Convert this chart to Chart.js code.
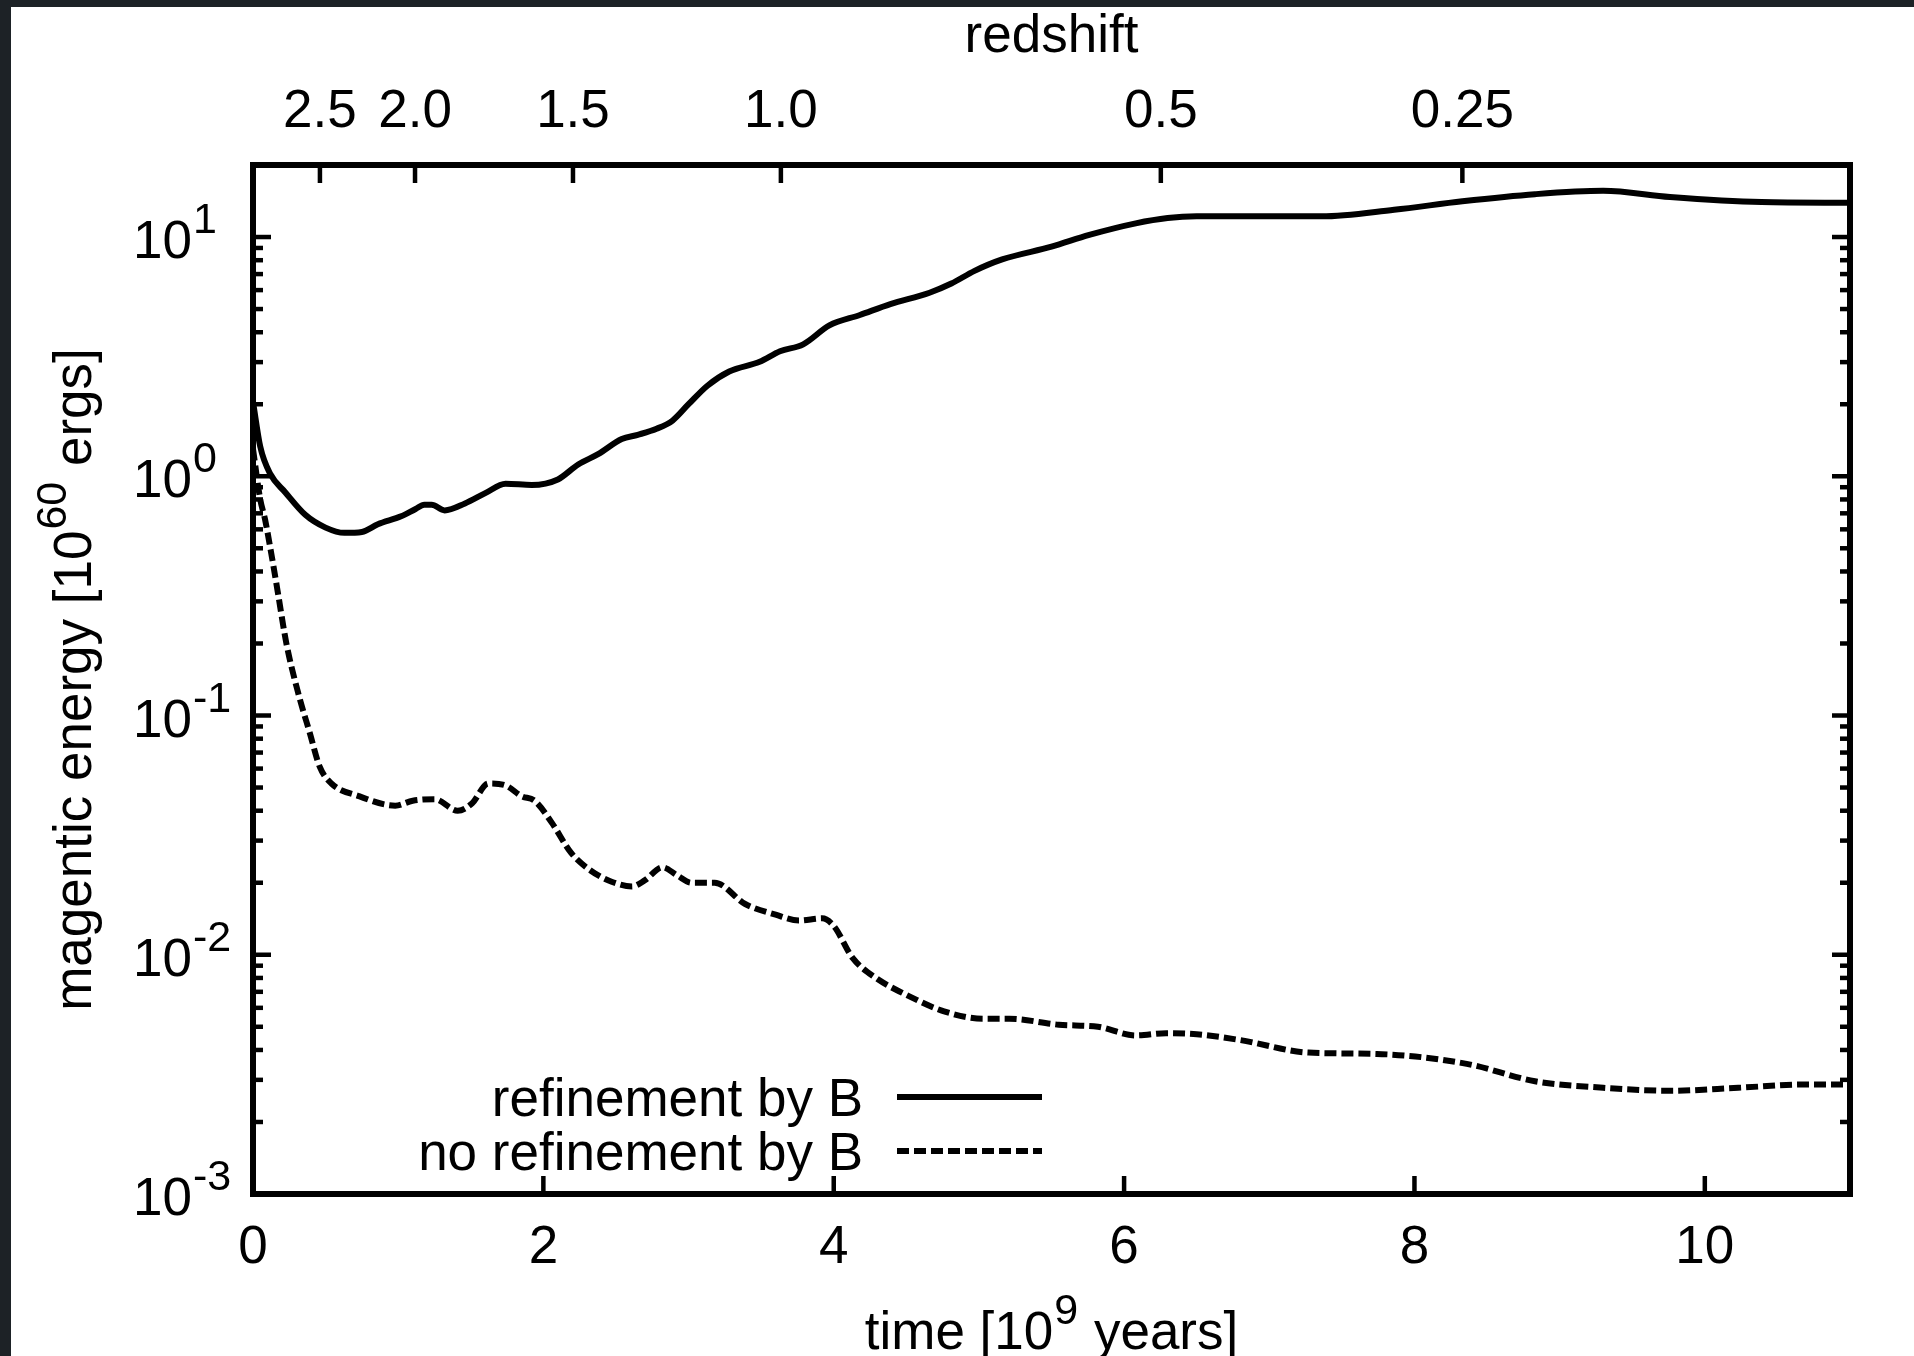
<!DOCTYPE html>
<html><head><meta charset="utf-8">
<script src="https://cdn.jsdelivr.net/npm/chart.js@4.4.0/dist/chart.umd.min.js"></script>
<style>html,body{margin:0;padding:0;background:#1d2226;overflow:hidden}canvas{display:block}</style>
</head><body>
<canvas id="c" width="1914" height="1356"></canvas>
<script>
// ---- data ----
const timeRefined = [0.00,0.05,0.12,0.22,0.36,0.50,0.63,0.75,0.86,1.02,1.12,1.18,1.23,1.32,1.46,1.60,1.74,1.92,2.10,2.24,2.38,2.54,2.65,2.78,2.89,3.00,3.13,3.28,3.49,3.63,3.79,3.97,4.18,4.39,4.66,4.81,4.97,5.16,5.50,5.76,6.08,6.30,6.50,7.36,7.86,8.33,8.83,9.30,9.76,10.39,11.00];
const energyRefined = [2.05,1.33,1.02,0.86,0.69,0.61,0.58,0.585,0.63,0.68,0.73,0.76,0.76,0.72,0.77,0.85,0.93,0.92,0.97,1.12,1.24,1.43,1.49,1.58,1.71,2.0,2.39,2.74,3.01,3.33,3.56,4.27,4.72,5.24,5.85,6.39,7.22,8.06,9.11,10.2,11.4,12.0,12.2,12.2,13.0,14.1,15.1,15.6,14.7,14.0,13.9];
const timeNoRefine = [0.00,0.05,0.083,0.13,0.17,0.23,0.31,0.39,0.46,0.54,0.73,0.98,1.10,1.25,1.41,1.51,1.62,1.74,1.85,1.94,2.06,2.19,2.33,2.47,2.61,2.70,2.82,2.92,3.02,3.18,3.39,3.60,3.76,3.92,4.00,4.13,4.29,4.50,4.76,5.03,5.21,5.55,5.82,6.08,6.29,6.50,6.80,7.27,7.74,8.36,8.83,9.30,9.76,10.23,10.70,11.00];
const energyNoRefine = [1.3,0.80,0.66,0.46,0.33,0.20,0.125,0.085,0.061,0.052,0.046,0.042,0.044,0.0447,0.040,0.043,0.052,0.051,0.046,0.044,0.0355,0.0267,0.0224,0.0202,0.0193,0.0205,0.0232,0.0215,0.020,0.020,0.0163,0.0147,0.0139,0.0142,0.0132,0.0097,0.0080,0.0068,0.0058,0.0054,0.0054,0.0051,0.0050,0.0046,0.0047,0.00465,0.0044,0.0039,0.00385,0.0035,0.00296,0.00278,0.0027,0.00278,0.00287,0.00287];
const seriesLabels = ['refinement by B','no refinement by B'];
const xTickValues = [0,2,4,6,8,10];
const redshiftLabels = ['2.5','2.0','1.5','1.0','0.5','0.25'];
const redshiftTimes = [0.461,1.116,2.204,3.636,6.253,8.33];
const yTickValues = [10,1,0.1,0.01,0.001];
const yTickExponents = ['1','0','-1','-2','-3'];
const xTitleParts = ['time [10','9',' years]'];
const yTitleParts = ['magentic energy [10','60',' ergs]'];
const x2Title = 'redshift';

// ---- drawing ----
const FONT = "'Liberation Sans', Arial, Helvetica, sans-serif";
const BIG = 53, SUP = 43, SUPRISE = 25;

function drawSup(ctx, parts, x, y, align) {
  ctx.font = BIG + 'px ' + FONT; const w0 = ctx.measureText(parts[0]).width;
  ctx.font = SUP + 'px ' + FONT; const w1 = ctx.measureText(parts[1]).width;
  ctx.font = BIG + 'px ' + FONT; const w2 = ctx.measureText(parts[2] || '').width;
  const total = w0 + w1 + w2 + 2;
  let sx = align === 'center' ? x - total / 2 : x;
  ctx.textAlign = 'left'; ctx.textBaseline = 'alphabetic'; ctx.fillStyle = '#000';
  ctx.font = BIG + 'px ' + FONT; ctx.fillText(parts[0], sx, y);
  ctx.font = SUP + 'px ' + FONT; ctx.fillText(parts[1], sx + w0 + 1, y - SUPRISE);
  if (parts[2]) { ctx.font = BIG + 'px ' + FONT; ctx.fillText(parts[2], sx + w0 + w1 + 2, y); }
}

const framePlugin = {
  id: 'frame',
  beforeDraw(chart) {
    const ctx = chart.ctx; ctx.save();
    ctx.fillStyle = '#1d2226'; ctx.fillRect(0, 0, chart.width, chart.height);
    ctx.fillStyle = '#ffffff'; ctx.fillRect(11, 7, chart.width - 11, chart.height - 7);
    ctx.restore();
  }
};

const axesPlugin = {
  id: 'gnuplotAxes',
  afterDraw(chart) {
    const ctx = chart.ctx;
    const {left, right, top, bottom} = chart.chartArea;
    const xs = chart.scales.x, x2 = chart.scales.x2, ys = chart.scales.y;
    ctx.save();
    ctx.strokeStyle = '#000'; ctx.lineCap = 'butt';
    const line = (a, b, c, d) => { ctx.beginPath(); ctx.moveTo(a, b); ctx.lineTo(c, d); ctx.stroke(); };
    ctx.lineWidth = 4.5;
    xTickValues.forEach(v => { const p = xs.getPixelForValue(v); line(p, bottom, p, bottom - 18); });
    redshiftTimes.forEach(v => { const p = x2.getPixelForValue(v); line(p, top, p, top + 18); });
    for (let e = -3; e <= 1; e++) {
      for (let k = 1; k <= 9; k++) {
        const v = k * Math.pow(10, e);
        if (v >= 20) continue;
        const p = ys.getPixelForValue(v);
        const len = k === 1 ? 18 : 10;
        line(left, p, left + len, p);
        line(right, p, right - len, p);
      }
    }
    ctx.lineWidth = 6;
    ctx.strokeRect(left, top, right - left, bottom - top);

    // y tick labels (10^n)
    yTickValues.forEach((v, i) => {
      const p = ys.getPixelForValue(v);
      ctx.font = BIG + 'px ' + FONT; ctx.fillStyle = '#000';
      ctx.textAlign = 'left'; ctx.textBaseline = 'alphabetic';
      ctx.fillText('10', 133, p + 21);
      const w = ctx.measureText('10').width;
      ctx.font = SUP + 'px ' + FONT;
      ctx.fillText(yTickExponents[i], 133 + w + 1, p + 21 - SUPRISE);
    });

    // titles
    ctx.font = BIG + 'px ' + FONT; ctx.textAlign = 'center'; ctx.textBaseline = 'alphabetic';
    ctx.fillText(x2Title, (left + right) / 2, 52);
    drawSup(ctx, xTitleParts, (left + right) / 2, 1349, 'center');
    ctx.save();
    ctx.translate(91, (top + bottom) / 2);
    ctx.rotate(-Math.PI / 2);
    drawSup(ctx, yTitleParts, 0, 0, 'center');
    ctx.restore();

    // legend
    const rows = [1097, 1151];
    chart.data.datasets.forEach((ds, i) => {
      const ry = rows[i];
      ctx.font = BIG + 'px ' + FONT; ctx.textAlign = 'right'; ctx.textBaseline = 'alphabetic';
      ctx.fillStyle = '#000';
      ctx.fillText(ds.label, 863, ry + 19);
      ctx.strokeStyle = ds.borderColor; ctx.lineWidth = ds.borderWidth;
      ctx.setLineDash(ds.borderDash || []);
      line(897, ry, 1042, ry);
      ctx.setLineDash([]);
    });
    ctx.restore();
  }
};

const tickFont = {size: BIG, family: FONT, lineHeight: 1};

new Chart(document.getElementById('c'), {
  type: 'line',
  data: {
    datasets: [
      { label: seriesLabels[0], data: timeRefined.map((t, i) => ({x: t, y: energyRefined[i]})),
        borderColor: '#000', borderWidth: 6, pointRadius: 0, cubicInterpolationMode: 'monotone', fill: false },
      { label: seriesLabels[1], data: timeNoRefine.map((t, i) => ({x: t, y: energyNoRefine[i]})),
        borderColor: '#000', borderWidth: 6, borderDash: [12, 5], pointRadius: 0, cubicInterpolationMode: 'monotone', fill: false }
    ]
  },
  options: {
    responsive: false, animation: false, devicePixelRatio: 1,
    layout: {padding: {left: 253, right: 64, top: 0, bottom: 0}},
    plugins: {legend: {display: false}, tooltip: {enabled: false}},
    scales: {
      x: { type: 'linear', position: 'bottom', min: 0, max: 11,
        afterBuildTicks: s => { s.ticks = xTickValues.map(v => ({value: v})); },
        afterFit: s => { s.height = 1356 - 1194; },
        grid: {display: false, drawTicks: false}, border: {display: false},
        ticks: {font: tickFont, color: '#000', padding: 28, autoSkip: false, maxRotation: 0, minRotation: 0,
          callback: v => String(v)} },
      x2: { type: 'linear', axis: 'x', position: 'top', min: 0, max: 11,
        afterBuildTicks: s => { s.ticks = redshiftTimes.map(v => ({value: v})); },
        afterFit: s => { s.height = 165; },
        grid: {display: false, drawTicks: false}, border: {display: false},
        ticks: {font: tickFont, color: '#000', padding: 26, autoSkip: false, maxRotation: 0, minRotation: 0,
          callback: (v, i) => redshiftLabels[i]} },
      y: { type: 'logarithmic', min: 0.001, max: 20, display: false }
    }
  },
  plugins: [framePlugin, axesPlugin]
});
</script>
</body></html>
